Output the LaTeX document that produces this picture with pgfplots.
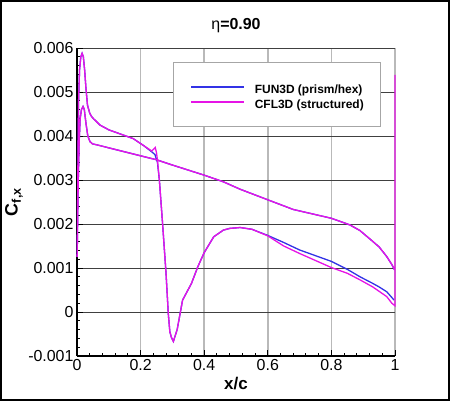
\documentclass[border=0pt]{standalone}
\usepackage{fontspec}
\setmainfont{Liberation Sans}
\usepackage{pgfplots}
\pgfplotsset{compat=1.18}
\definecolor{fblue}{RGB}{50,50,230}
\definecolor{cmag}{RGB}{230,20,230}
\begin{document}
\begin{tikzpicture}
\useasboundingbox (0bp,0bp) rectangle (450bp,401bp);
\draw[line width=2bp] (1bp,1bp) rectangle (449bp,400bp);
\begin{axis}[
  at={(77bp,45bp)}, anchor=south west, scale only axis,
  width=318bp, height=308bp,
  xmin=0, xmax=1, ymin=-0.001, ymax=0.006,
  scaled y ticks=false, scaled x ticks=false,
  xtick={0,0.2,0.4,0.6,0.8,1},
  xticklabels={0,0.2,0.4,0.6,0.8,1},
  ytick={-0.001,0,0.001,0.002,0.003,0.004,0.005,0.006},
  yticklabels={-0.001,0,0.001,0.002,0.003,0.004,0.005,0.006},
  minor x tick num=4, minor y tick num=4,
  axis x line*=bottom, axis y line*=left,
  axis line style={line width=1.5bp,-},
  tick align=inside,
  major tick length=6bp, minor tick length=3.5bp,
  every tick/.style={black, line width=1bp},
  xmajorgrids, ymajorgrids,
  major x grid style={gray!55, line width=1.6bp},
  major y grid style={black!75, line width=0.6bp},
  tick label style={font=\fontsize{16}{16}\selectfont},
  /pgf/number format/assume math mode=true,
  xlabel={\textbf{x/c}},
  ylabel={\textbf{C\textsubscript{f,x}}},
  xlabel style={at={(axis description cs:0.5,-0.091)}, anchor=center, font=\fontsize{17}{17}\selectfont},
  ylabel style={at={(axis description cs:-0.198,0.5)}, anchor=center, font=\fontsize{18}{18}\selectfont},
  title={η\textbf{=0.90}},
  title style={at={(axis description cs:0.5,1.052)}, anchor=center, font=\fontsize{16}{16}\selectfont},
  clip=false,
  legend cell align=left,
  legend image code/.code={\draw[#1] (0bp,0bp) -- (53bp,0bp); \path (63bp,0bp);},
  legend style={at={(axis description cs:0.302,0.9545)}, anchor=north west,
    draw=gray!70, line width=1bp, fill=white, inner xsep=17bp, inner ysep=17bp,
    font=\fontsize{12}{14}\selectfont\bfseries,
    nodes={inner sep=0bp, text height=14.3bp, text depth=0.7bp}},
]
\addplot[fblue, line width=1.3bp] coordinates {
(0.997,0.00027) (0.99,0.00033) (0.974,0.00046) (0.95,0.00057) (0.93,0.00065)
(0.89,0.00080) (0.85,0.00097) (0.80,0.00115) (0.75,0.00128) (0.70,0.00141)
(0.65,0.00158) (0.60,0.00174) (0.55,0.00188) (0.513,0.00192) (0.48,0.00190)
(0.46,0.00186) (0.43,0.00171) (0.40,0.00135) (0.38,0.00103) (0.36,0.00065)
(0.332,0.00027) (0.315,-0.00040) (0.303,-0.00067) (0.297,-0.00058) (0.292,-0.00045)
(0.287,-0.00003) (0.280,0.00088) (0.269,0.00202) (0.259,0.00300) (0.253,0.00340)
(0.245,0.00358) (0.235,0.00364) (0.21,0.00378) (0.177,0.00394) (0.15,0.00401)
(0.10,0.00414) (0.072,0.00425) (0.051,0.00440) (0.046,0.00444) (0.040,0.00452)
(0.033,0.0047) (0.028,0.0051) (0.024,0.0055) (0.020,0.0058) (0.016,0.00588)
(0.012,0.0058) (0.008,0.0055) (0.005,0.0048) (0.003,0.0035) (0.001,0.0015)
(0.0003,0.00125)
(0.001,0.0015) (0.004,0.0030) (0.007,0.0039) (0.010,0.0044) (0.014,0.0046)
(0.019,0.00467) (0.023,0.0046) (0.028,0.0043) (0.034,0.0040) (0.041,0.00387)
(0.049,0.00382) (0.062,0.00380) (0.15,0.00364) (0.25,0.00346) (0.30,0.00334)
(0.40,0.00311) (0.46,0.00296) (0.513,0.00279) (0.60,0.00255) (0.68,0.00233)
(0.74,0.00223) (0.80,0.00213) (0.858,0.00198) (0.89,0.00185) (0.921,0.00166)
(0.95,0.00148) (0.974,0.00126) (0.99,0.00108) (0.998,0.00096)
};
\addlegendentry{FUN3D (prism/hex)}
\addplot[cmag, line width=1.3bp] coordinates {
(1.0,0.00539) (1.0,0.00014) (0.99,0.00020) (0.974,0.00035) (0.95,0.00047)
(0.93,0.00057) (0.89,0.00073) (0.85,0.00088) (0.80,0.00101) (0.75,0.00117)
(0.70,0.00133) (0.65,0.00150) (0.60,0.00173) (0.55,0.00188) (0.513,0.00192)
(0.48,0.00190) (0.46,0.00186) (0.43,0.00171) (0.40,0.00135) (0.38,0.00103)
(0.36,0.00065) (0.332,0.00027) (0.315,-0.00040) (0.303,-0.00067) (0.297,-0.00058)
(0.292,-0.00045) (0.287,-0.00003) (0.280,0.00088) (0.269,0.00202) (0.259,0.00300)
(0.253,0.00345) (0.250,0.00362) (0.246,0.00374) (0.241,0.00370) (0.235,0.00366)
(0.21,0.00378) (0.177,0.00394) (0.15,0.00401)
(0.10,0.00414) (0.072,0.00425) (0.051,0.00440) (0.046,0.00444) (0.040,0.00452)
(0.033,0.0047) (0.028,0.0051) (0.024,0.0055) (0.020,0.0058) (0.016,0.00588)
(0.012,0.0058) (0.008,0.0055) (0.005,0.0048) (0.003,0.0035) (0.001,0.0015)
(0.0003,0.00125)
(0.001,0.0015) (0.004,0.0030) (0.007,0.0039) (0.010,0.0044) (0.014,0.0046)
(0.019,0.00467) (0.023,0.0046) (0.028,0.0043) (0.034,0.0040) (0.041,0.00387)
(0.049,0.00382) (0.062,0.00380) (0.15,0.00364) (0.25,0.00346) (0.30,0.00334)
(0.40,0.00311) (0.46,0.00296) (0.513,0.00279) (0.60,0.00255) (0.68,0.00233)
(0.74,0.00223) (0.80,0.00213) (0.858,0.00198) (0.89,0.00185) (0.921,0.00166)
(0.95,0.00148) (0.974,0.00126) (0.99,0.00108) (1.0,0.00095)
};
\addlegendentry{CFL3D (structured)}
\end{axis}
\end{tikzpicture}
\end{document}
